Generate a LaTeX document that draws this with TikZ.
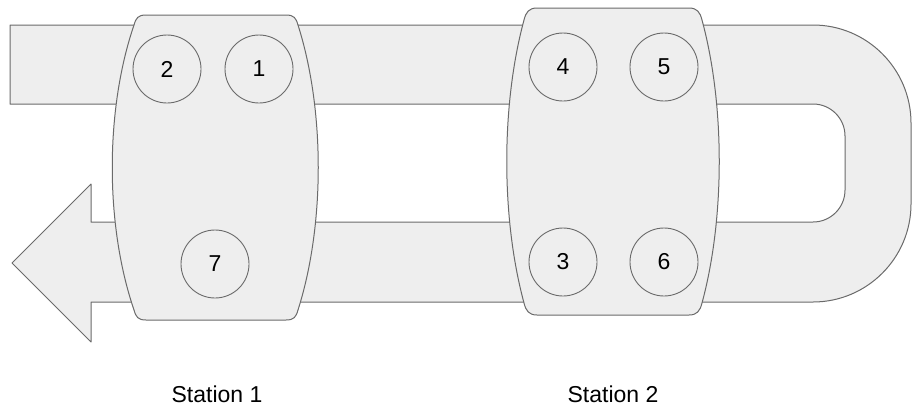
\documentclass[tikz,border=0pt]{standalone}
\usepackage{fontspec}
\setmainfont{Liberation Sans}
\definecolor{shapefill}{HTML}{EEEEEE}
\definecolor{shapeline}{HTML}{6A6A6A}
\begin{document}
\begin{tikzpicture}[x=1pt,y=-1pt,
  outline/.style={draw=shapeline, line width=1pt, fill=shapefill, line join=round},
  slot/.style={circle, draw=shapeline, line width=0.9pt, fill=shapefill, minimum size=68pt, inner sep=0pt, font=\fontsize{23}{27}\selectfont},
  stationlabel/.style={anchor=base, inner sep=0pt, font=\fontsize{23}{27}\selectfont}]
\useasboundingbox (0,0) rectangle (912,408);
% track with U-turn and arrow head
\path[outline] (10,25) -- (813,25)
  .. controls (867,25) and (911,69) .. (911,123)
  -- (911,204)
  .. controls (911,258) and (867,302) .. (813,302)
  -- (91,302) -- (91,342) -- (12,263) -- (91,184) -- (91,222)
  -- (813,222)
  .. controls (830.7,222) and (845,207.7) .. (845,190)
  -- (845,136)
  .. controls (845,118.3) and (830.7,104) .. (813,104)
  -- (10,104) -- cycle;
% station 1 body
\path[outline] (146,15) -- (286,15)
  .. controls (294,15) and (296,18) .. (298,25)
  .. controls (325,110) and (325,225) .. (298,310)
  .. controls (296,317) and (294,320) .. (286,320)
  -- (146,320)
  .. controls (138,320) and (136,317) .. (134,310)
  .. controls (105,225) and (105,110) .. (134,25)
  .. controls (136,18) and (138,15) .. (146,15) -- cycle;
% station 2 body
\path[outline] (537,8) -- (689,8)
  .. controls (697,8) and (700,12) .. (702,20)
  .. controls (725,105) and (725,218) .. (702,303)
  .. controls (700,311) and (697,315) .. (689,315)
  -- (537,315)
  .. controls (529,315) and (526,311) .. (524,303)
  .. controls (501,218) and (501,105) .. (524,20)
  .. controls (526,12) and (529,8) .. (537,8) -- cycle;
% slots
\node[slot] (s2) at (167,69) {2};
\node[slot] (s1) at (259,69) {1};
\node[slot] (s7) at (215,264) {7};
\node[slot] (s4) at (563,67) {4};
\node[slot] (s5) at (664,67) {5};
\node[slot] (s3) at (563,262) {3};
\node[slot] (s6) at (664,262) {6};
% labels
\node[stationlabel] (st1) at (217,402) {Station 1};
\node[stationlabel] (st2) at (613,402) {Station 2};
\end{tikzpicture}
\end{document}
